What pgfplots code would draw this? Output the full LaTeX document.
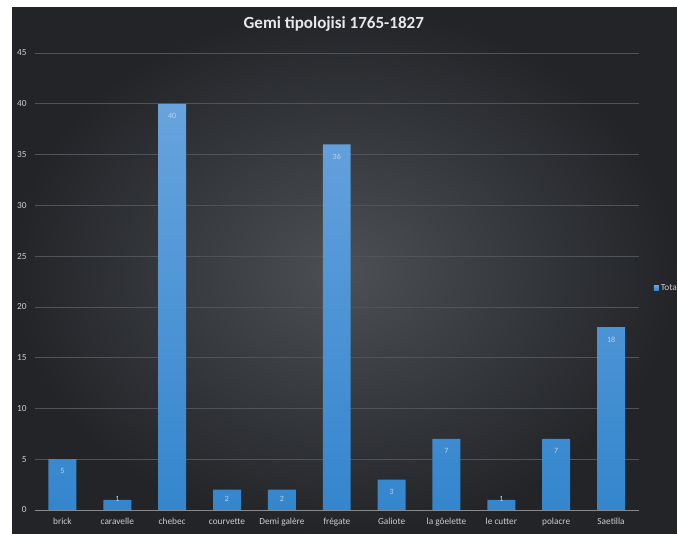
\documentclass[border=0pt]{standalone}
\usepackage{fontspec}
\setmainfont{Carlito}
\usepackage{pgfplots}
\pgfplotsset{compat=1.18}

\definecolor{bgin}{RGB}{76,79,83}
\definecolor{bgout}{RGB}{34,36,40}
\definecolor{gridc}{RGB}{80,83,87}
\definecolor{axisc}{RGB}{135,137,140}
\definecolor{bartop}{RGB}{104,163,221}
\definecolor{barbot}{RGB}{52,134,205}
\definecolor{ticktxt}{RGB}{205,205,205}
\definecolor{lbltxt}{RGB}{190,210,232}

\begin{document}
\begin{tikzpicture}
\path[use as bounding box] (0pt,0pt) rectangle (677pt,534pt);
\clip (0pt,0pt) rectangle (677pt,534pt);
\fill[white] (0pt,0pt) rectangle (677pt,534pt);
\shade[inner color=bgin, outer color=bgout] (12pt,0pt) rectangle (677pt,526pt);
\begin{axis}[
    at={(35pt,24pt)}, anchor=south west,
    scale only axis, width=603.5pt, height=457pt,
    xmin=-0.5, xmax=10.5, ymin=0, ymax=45,
    axis x line*=bottom, axis y line*=left,
    x axis line style={draw=axisc, line width=0.8pt, -},
    y axis line style={draw=none},
    major tick length=0pt,
    ytick={0,5,...,45},
    xtick={0,...,10},
    xticklabels={brick, caravelle, chebec, courvette, Demi galère, frégate, Galiote, la gôelette, le cutter, polacre, Saetilla},
    ymajorgrids, grid style={draw=gridc, line width=0.6pt},
    ticklabel style={font=\fontsize{9.3}{10}\selectfont, text=ticktxt},
    yticklabel style={xshift=-5pt},
    xticklabel style={yshift=-5pt},
    /pgf/number format/assume math mode=true,
    title={Gemi tipolojisi 1765-1827},
    title style={font=\bfseries\fontsize{17}{20}\selectfont, text={rgb,255:red,232;green,232;blue,232},
                 at={(rel axis cs:0.495,1.05)}, anchor=center},
    legend style={at={(1.02,0.486)}, anchor=west, draw=none, fill=none,
                  font=\fontsize{9.3}{10}\selectfont, text=ticktxt},
]
\addplot[ybar, bar width=0.51, draw=none, top color=bartop, bottom color=barbot,
         legend image code/.code={\fill[bartop!85!barbot] (0pt,-2.5pt) rectangle (5pt,2.5pt);}]
  coordinates {(0,5) (1,1) (2,40) (3,2) (4,2) (5,36) (6,3) (7,7) (8,1) (9,7) (10,18)};
\addlegendentry{Total}

% value labels, placed inside the top of each bar
\addplot[draw=none, forget plot, nodes near coords, point meta=explicit,
         every node near coord/.append style={anchor=center, font=\fontsize{8}{9}\selectfont, text=lbltxt}]
  coordinates {(0,3.8)[5] (1,1.1)[1] (2,38.8)[40] (3,1.1)[2] (4,1.1)[2] (5,34.8)[36]
               (6,1.8)[3] (7,5.8)[7] (8,1.1)[1] (9,5.8)[7] (10,16.8)[18]};
\end{axis}
\end{tikzpicture}
\end{document}
